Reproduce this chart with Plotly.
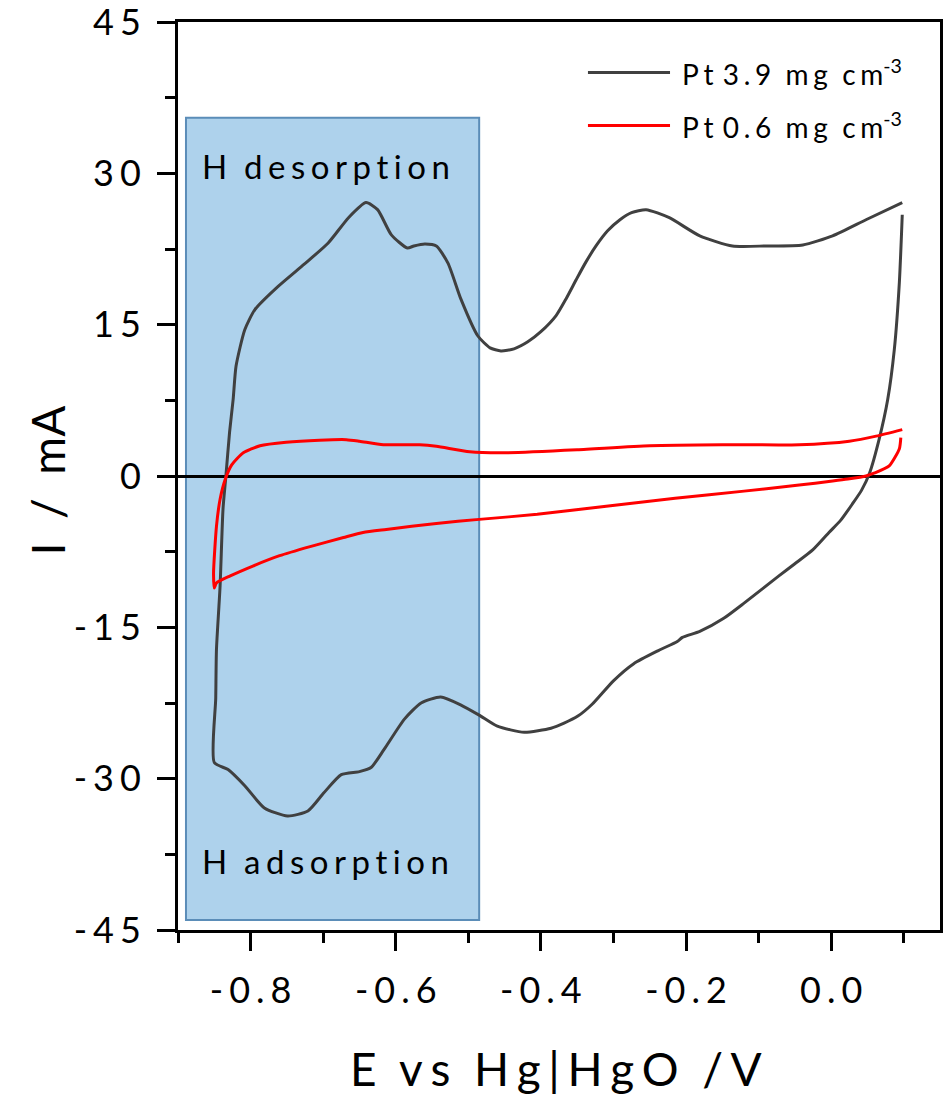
import plotly.graph_objects as go

# Cyclic voltammograms, Pt loadings
series_names = ["Pt 3.9 mg cm", "Pt 0.6 mg cm"]

pt39_E = [0.098, 0.094, 0.087, 0.078, 0.066, 0.053, 0.042, 0.029, 0.013, -0.003,
          -0.025, -0.050, -0.072, -0.120, -0.148, -0.181, -0.205, -0.212, -0.238, -0.272,
          -0.300, -0.329, -0.349, -0.368, -0.386, -0.423, -0.460, -0.485, -0.510, -0.538,
          -0.565, -0.588, -0.616, -0.634, -0.650, -0.675, -0.699, -0.721, -0.749, -0.781,
          -0.808, -0.831, -0.850,
          -0.848, -0.847, -0.842, -0.838, -0.834, -0.829, -0.824, -0.820, -0.808, -0.794,
          -0.762, -0.726, -0.693, -0.665, -0.641, -0.625, -0.606, -0.584, -0.575, -0.560,
          -0.544, -0.528, -0.510, -0.487, -0.470, -0.455, -0.437, -0.418, -0.400, -0.379,
          -0.365, -0.351, -0.338, -0.324, -0.308, -0.291, -0.275, -0.255, -0.223, -0.181,
          -0.136, -0.090, -0.039, 0.002, 0.048, 0.098]
pt39_I = [25.9, 19.2, 12.5, 7.6, 3.6, 0.3, -1.4, -2.8, -4.4, -5.6,
          -7.3, -8.7, -9.9, -12.6, -14.1, -15.4, -16.0, -16.4, -17.3, -18.6,
          -20.3, -22.6, -23.8, -24.5, -25.0, -25.4, -24.8, -23.7, -22.7, -21.9,
          -22.5, -24.1, -27.1, -28.9, -29.3, -29.6, -31.4, -33.2, -33.7, -32.9,
          -30.7, -29.1, -28.4,
          -22.0, -17.2, -10.9, -3.3, 0.0, 4.3, 7.6, 10.9, 14.5, 16.5,
          18.8, 21.0, 23.1, 25.6, 27.1, 26.4, 23.9, 22.6, 22.8, 23.0,
          22.8, 21.1, 17.5, 13.9, 12.7, 12.4, 12.6, 13.3, 14.3, 15.9,
          17.6, 19.5, 21.2, 22.8, 24.3, 25.4, 26.1, 26.4, 25.6, 23.8,
          22.8, 22.8, 22.9, 23.8, 25.4, 27.1]

pt06_E = [0.096, 0.094, 0.080, 0.060, 0.048, 0.023, 0.002, -0.044, -0.120, -0.215,
          -0.310, -0.405, -0.485, -0.544, -0.613, -0.645, -0.672, -0.718, -0.760, -0.796,
          -0.828, -0.847, -0.850,
          -0.851, -0.847, -0.842, -0.835, -0.826, -0.810, -0.787, -0.751, -0.705, -0.668,
          -0.650, -0.617, -0.567, -0.544, -0.498, -0.450, -0.350, -0.250, -0.150, -0.044,
          0.025, 0.062, 0.098]
pt06_I = [3.8, 2.7, 1.0, 0.3, 0.0, -0.3, -0.5, -0.9, -1.5, -2.2,
          -3.0, -3.8, -4.3, -4.7, -5.3, -5.6, -6.1, -7.0, -7.9, -8.9,
          -9.9, -10.6, -11.1,
          -9.6, -5.0, -2.3, -0.35, 1.1, 2.3, 3.0, 3.35, 3.55, 3.6,
          3.45, 3.1, 3.1, 2.95, 2.4, 2.3, 2.6, 3.0, 3.1, 3.1,
          3.45, 3.95, 4.6]

series_colors = ["#404040", "#ff0000"]

x_ticks = [-0.8, -0.6, -0.4, -0.2, 0.0]
x_ticktext = ["-0.8", "-0.6", "-0.4", "-0.2", "0.0"]
y_ticks = [-45, -30, -15, 0, 15, 30, 45]
y_ticktext = ["-45", "-30", "-15", "0", "15", "30", "45"]

FONT = "Lato"
SP = "\u2006"  # six-per-em space used for the wide letter spacing


def spaced(s):
    return SP.join(list(s))


fig = go.Figure()
for E, I, name, color in [(pt39_E, pt39_I, series_names[0], series_colors[0]),
                          (pt06_E, pt06_I, series_names[1], series_colors[1])]:
    fig.add_trace(go.Scatter(x=E, y=I, mode="lines", name=name, showlegend=False,
                             line=dict(color=color, width=3, shape="spline", smoothing=0.6)))

# shaded hydrogen region
fig.add_shape(type="rect", xref="x", yref="y", x0=-0.889, x1=-0.485, y0=-44.0, y1=35.5,
              fillcolor="#aed2ec", line=dict(color="#5b8db8", width=2), layer="below")

fig.add_annotation(x=-0.870, y=30.7, xref="x", yref="y", xanchor="left", yanchor="middle",
                   text="H  " + spaced("desorption"), showarrow=False,
                   font=dict(family=FONT, size=33, color="black"))
fig.add_annotation(x=-0.870, y=-38.2, xref="x", yref="y", xanchor="left", yanchor="middle",
                   text="H  " + spaced("adsorption"), showarrow=False,
                   font=dict(family=FONT, size=33, color="black"))

# legend entries
leg_y = [0.9444, 0.886]
for name, color, ly in zip(series_names, series_colors, leg_y):
    fig.add_shape(type="line", xref="paper", yref="paper", x0=0.538, x1=0.6457, y0=ly, y1=ly,
                  line=dict(color=color, width=3))
    parts = name.split(" ")
    label = (spaced(parts[0]) + SP + SP + spaced(parts[1]) + "  " + spaced(parts[2]) + "  "
             + spaced(parts[3]) + "<sup>-3</sup>")
    fig.add_annotation(x=0.659, y=ly, xref="paper", yref="paper", xanchor="left", yanchor="middle",
                       text=label, showarrow=False,
                       font=dict(family=FONT, size=28, color="black"))

# axis titles
fig.add_annotation(x=0.496, y=-0.153, xref="paper", yref="paper", xanchor="center", yanchor="middle",
                   text="E  " + spaced("vs") + "  " + spaced("Hg|HgO") + "  " + spaced("/V"),
                   showarrow=False, font=dict(family=FONT, size=46, color="black"))
fig.add_annotation(x=-0.170, y=0.4956, xref="paper", yref="paper", xanchor="center", yanchor="middle",
                   text="I  /  mA", textangle=-90,
                   showarrow=False, font=dict(family=FONT, size=46, color="black"))

fig.update_layout(
    width=949, height=1099,
    margin=dict(l=178, r=9, t=22, b=169, autoexpand=False),
    plot_bgcolor="white", paper_bgcolor="white",
    font=dict(family=FONT, color="black"),
)
fig.update_xaxes(
    range=[-0.9, 0.15], showgrid=False, zeroline=False, automargin=False,
    showline=True, linecolor="black", linewidth=3, mirror=True,
    ticks="outside", ticklen=18, tickwidth=3, tickcolor="black",
    tickvals=x_ticks, ticktext=[spaced(t) for t in x_ticktext],
    tickfont=dict(family=FONT, size=36), ticklabelstandoff=9, ticklabeloverflow="allow",
    minor=dict(ticks="outside", ticklen=10, tickwidth=3, tickcolor="black", dtick=0.1, tick0=-0.9),
)
fig.update_yaxes(
    range=[-45, 45], showgrid=False, automargin=False,
    zeroline=True, zerolinecolor="black", zerolinewidth=3,
    showline=True, linecolor="black", linewidth=3, mirror=True,
    ticks="outside", ticklen=18, tickwidth=3, tickcolor="black",
    tickvals=y_ticks, ticktext=[spaced(t) for t in y_ticktext],
    tickfont=dict(family=FONT, size=36), ticklabelstandoff=9, ticklabeloverflow="allow",
    minor=dict(ticks="outside", ticklen=10, tickwidth=3, tickcolor="black", dtick=7.5, tick0=-45),
)

fig.write_html("out.html")
